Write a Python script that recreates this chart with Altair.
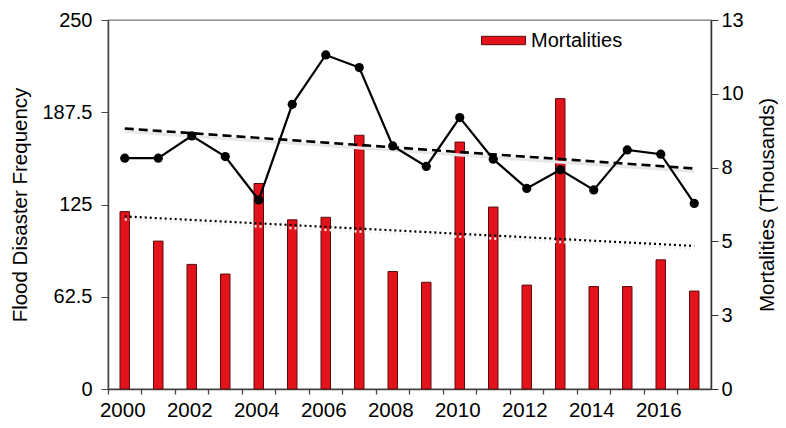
import altair as alt
import pandas as pd

years = list(range(2000, 2018))
frequency = [156.4, 156.4, 171.5, 157.5, 128.1, 192.9, 226.3, 217.8, 164.7, 150.8,
             183.9, 155.7, 135.9, 148.5, 134.9, 162.0, 159.1, 125.7]
mortalities = [6.25, 5.21, 4.39, 4.05, 7.24, 5.96, 6.05, 8.94, 4.14, 3.76,
               8.70, 6.41, 3.66, 10.23, 3.61, 3.61, 4.55, 3.45]
trend_years = [2000, 2017]
freq_trend = [176.5, 149.4]
mort_trend = [6.08, 5.04]

left_ticks = [0, 62.5, 125, 187.5, 250]
right_ticks = [0, 2.6, 5.2, 7.8, 10.4, 13]

df = pd.DataFrame({"year": years, "frequency": frequency,
                   "mortalities": mortalities, "series": ["Mortalities"] * len(years)})
tf = pd.DataFrame({"year": trend_years, "freq": freq_trend, "mort": mort_trend})

FONT = "Liberation Sans"
W, H = 603, 369

x_enc = alt.X("year:O", title=None,
              scale=alt.Scale(type="band", paddingInner=0, paddingOuter=0),
              axis=alt.Axis(bandPosition=0, labelOffset=-2, labelAngle=0,
                            labelExpr="datum.value % 2 == 0 ? datum.value : ''",
                            tickSize=5, labelPadding=6, labelFontSize=20.5, labelFont=FONT,
                            labelColor="black", domainColor="#444", tickColor="#444",
                            domainWidth=1.5, tickWidth=1.3, grid=False))

y_right = alt.Scale(domain=[0, 13], nice=False)
y_left = alt.Scale(domain=[0, 250], nice=False)

right_axis = alt.Axis(orient="right", values=right_ticks, labelExpr="round(datum.value)",
                      title="Mortalities (Thousands)", titleAngle=270, titleX=56,
                      titleY=H / 2, titleBaseline="middle", titleAlign="center",
                      titleFontSize=20.5, titleFont=FONT, titleFontWeight="normal",
                      titleColor="black", labelFontSize=20, labelFont=FONT,
                      labelColor="black", tickSize=7, labelPadding=3,
                      domainColor="#333", tickColor="#333", domainWidth=1.5, grid=False)

left_axis = alt.Axis(orient="left", values=left_ticks, labelExpr="'' + datum.value",
                     title="Flood Disaster Frequency", titleAngle=270, titleX=-88,
                     titleY=H / 2, titleBaseline="middle", titleAlign="center",
                     titleFontSize=20.5, titleFont=FONT, titleFontWeight="normal",
                     titleColor="black", labelFontSize=20, labelFont=FONT,
                     labelColor="black", tickSize=7, labelPadding=9,
                     domainColor="#444", tickColor="#444", domainWidth=1.5, grid=False)

bars = alt.Chart(df).mark_bar(size=9.5, stroke="#5a0c0c", strokeWidth=1).encode(
    x=x_enc,
    y=alt.Y("mortalities:Q", scale=y_right, axis=right_axis),
    color=alt.Color("series:N",
                    scale=alt.Scale(domain=["Mortalities"], range=["#e3131b"]),
                    legend=alt.Legend(orient="none", legendX=373, legendY=-2, title=None,
                                      symbolType="M-1,-0.19H1V0.19H-1Z", symbolSize=1936,
                                      symbolStrokeColor="#5a0c0c", symbolStrokeWidth=1,
                                      labelFontSize=20, labelFont=FONT, labelColor="black",
                                      labelOffset=5, padding=0)),
)

dot_shadow = alt.Chart(tf).mark_line(color="#ededed", strokeWidth=2.5, yOffset=3,
                                     strokeDash=[2, 3]).encode(
    x=x_enc, y=alt.Y("mort:Q", scale=y_right, axis=right_axis))
dotted = alt.Chart(tf).mark_line(color="black", strokeWidth=2.2, strokeDash=[2, 3]).encode(
    x=x_enc, y=alt.Y("mort:Q", scale=y_right, axis=right_axis))

right_layer = alt.layer(bars, dot_shadow, dotted)

dash_shadow = alt.Chart(tf).mark_line(color="#e8e8e8", strokeWidth=3, yOffset=3).encode(
    x=x_enc, y=alt.Y("freq:Q", scale=y_left, axis=left_axis))
dashed = alt.Chart(tf).mark_line(color="black", strokeWidth=2.6, strokeDash=[9, 5]).encode(
    x=x_enc, y=alt.Y("freq:Q", scale=y_left, axis=left_axis))
line = alt.Chart(df).mark_line(color="black", strokeWidth=2.2).encode(
    x=x_enc, y=alt.Y("frequency:Q", scale=y_left, axis=left_axis))
pts = alt.Chart(df).mark_point(filled=True, color="black", size=85, opacity=1).encode(
    x=x_enc, y=alt.Y("frequency:Q", scale=y_left, axis=left_axis))

left_layer = alt.layer(dash_shadow, dashed, line, pts)

chart = alt.layer(right_layer, left_layer).resolve_scale(y="independent").properties(
    width=W, height=H,
    autosize=alt.AutoSizeParams(type="none"),
    padding={"left": 100, "top": 12, "right": 67, "bottom": 31},
).configure_view(stroke="#777", strokeWidth=1.3)

chart.save("out.html", embed_options={"renderer": "svg", "actions": False})
